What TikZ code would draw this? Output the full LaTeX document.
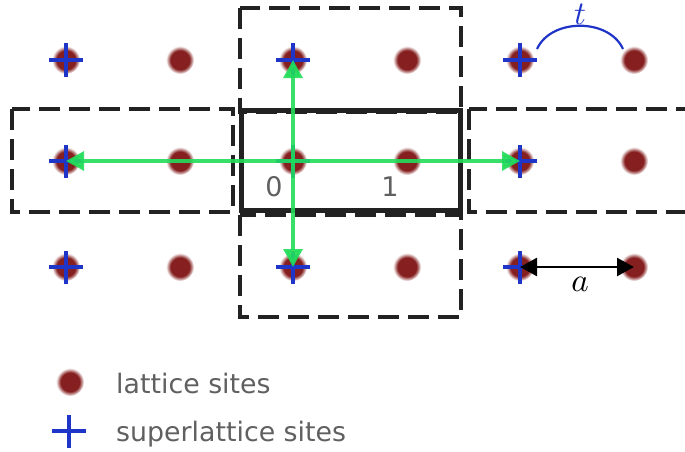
\documentclass[tikz,border=0pt]{standalone}
\usepackage{fontspec}
\setsansfont{DejaVu Sans}
\usetikzlibrary{arrows.meta}
\definecolor{sitered}{HTML}{862020}
\definecolor{crossblue}{HTML}{1F35C8}
\definecolor{hopgreen}{HTML}{22DD5A}
\definecolor{boxgray}{HTML}{222222}
\definecolor{labelgray}{HTML}{606060}
\pgfdeclareradialshading{sitedot}{\pgfpoint{0bp}{0bp}}{color(0bp)=(sitered); color(17bp)=(sitered); color(25bp)=(white); color(50bp)=(white)}
\begin{document}
\begin{tikzpicture}[x=1pt,y=-1pt,
  crossline/.style={crossblue, line width=4pt},
  dashbox/.style={boxgray, line width=3.8pt, dash pattern=on 21pt off 9pt},
  cellbox/.style={boxgray, line width=5pt},
  hop/.style={hopgreen, line width=3.2pt, opacity=0.9, -{Triangle[length=18pt,width=19pt]}},
  numlabel/.style={labelgray, font=\sffamily\fontsize{27}{30}\selectfont},
  legendtext/.style={labelgray, anchor=base west, font=\sffamily\fontsize{26.8}{30}\selectfont, inner sep=0pt},
  mathlabel/.style={scale=3.3, inner sep=0pt}]
\useasboundingbox (0,0) rectangle (685,452);
% lattice sites
\foreach \i/\x in {0/66,1/180,2/293,3/407,4/520,5/634}{
  \foreach \j/\y in {0/60,1/161,2/267}{
    \coordinate (s\i\j) at (\x,\y);
    \shade[shading=sitedot] (s\i\j) circle[radius=14pt];
  }
}
% superlattice crosses
\foreach \i in {0,2,4}{
  \foreach \j in {0,1,2}{
    \draw[crossline] ([xshift=-17pt]s\i\j) -- ([xshift=17pt]s\i\j);
    \draw[crossline] ([yshift=-16.5pt]s\i\j) -- ([yshift=16.5pt]s\i\j);
  }
}
% boxes
\draw[dashbox] (12,109) rectangle (233,212);
\draw[dashbox] (240,8) rectangle (461,112);
\draw[dashbox] (240,215) rectangle (461,317);
\draw[dashbox] (469,109) rectangle (705,212);
\draw[cellbox] (241.5,110) rectangle (460,210.5);
% hopping arrows
\draw[hop] (s21) -- (s01);
\draw[hop] (s21) -- (s41);
\draw[hop] (s21) -- (s20);
\draw[hop] (s21) -- (s22);
% labels in cell
\node[numlabel] (n0) at (274,187) {0};
\node[numlabel] (n1) at (390,187) {1};
% lattice constant
\draw[black, line width=2.5pt, {Triangle[length=17pt,width=18pt]}-{Triangle[length=17pt,width=18pt]}] (s42) -- (s52);
\node[mathlabel] (alab) at (580,284) {$a$};
% hopping t
\coordinate (tA) at (537,49);
\coordinate (tB) at (623,49);
\draw[crossblue, line width=2.2pt] (tA) .. controls (551,18) and (609,18) .. (tB);
\node[mathlabel, crossblue] (tlab) at (580,14) {$t$};
% legend
\coordinate (ld) at (70,382);
\shade[shading=sitedot] (ld) circle[radius=14pt];
\coordinate (lc) at (69,431);
\draw[crossline] ([xshift=-17pt]lc) -- ([xshift=17pt]lc);
\draw[crossline] ([yshift=-16.5pt]lc) -- ([yshift=16.5pt]lc);
\node[legendtext] (l1) at (116,393) {lattice sites};
\node[legendtext] (l2) at (116,441) {superlattice sites};
\end{tikzpicture}
\end{document}
